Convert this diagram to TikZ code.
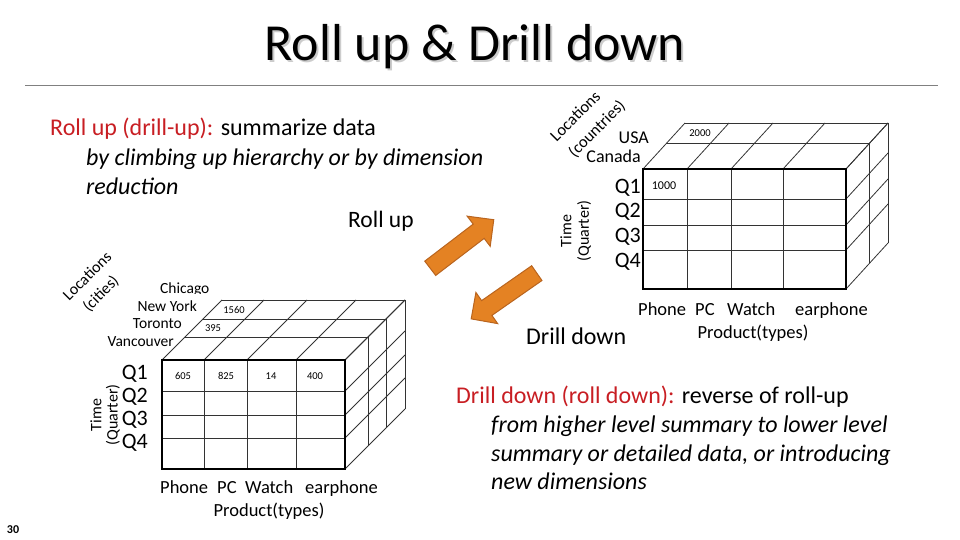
\documentclass[tikz,border=0pt]{standalone}
\usepackage{fontspec}
\setmainfont{Carlito}
\definecolor{hdred}{RGB}{200,30,35}
\definecolor{arrfill}{RGB}{228,130,35}
\definecolor{arrline}{RGB}{185,100,30}
\begin{document}
\begin{tikzpicture}[x=1pt,y=-1pt,
  body/.style={font=\fontsize{24}{28}\selectfont, anchor=base west, inner sep=0pt},
  bodyit/.style={body, font=\fontsize{24}{28}\selectfont\itshape},
  grid/.style={line width=0.8pt, draw=black!80},
  outline/.style={line width=2.2pt, draw=black},
  qlab/.style={font=\fontsize{22}{24}\selectfont, anchor=east, inner sep=0pt},
  loclab/.style={font=\fontsize{15.5}{17}\selectfont, anchor=east, inner sep=0pt},
  axlab/.style={font=\fontsize{16}{18}\selectfont, inner sep=0pt},
  rotlab/.style={font=\fontsize{16.5}{20}\selectfont, inner sep=0pt, rotate=45},
  val/.style={font=\fontsize{10.5}{11}\selectfont, inner sep=0pt},
  prod/.style={font=\fontsize{18.5}{20}\selectfont, anchor=base west, inner sep=0pt},
  bigarrow/.style={draw=arrline, fill=arrfill, line width=1pt, line join=miter}]
\useasboundingbox (0,0) rectangle (960,540);

% title
\node[font=\fontsize{52}{58}\selectfont, text=black!20] (titleshadow) at (477,49) {Roll up \& Drill down};
\node[font=\fontsize{52}{58}\selectfont] (title) at (475,47) {Roll up \& Drill down};
\coordinate (hl) at (25,86);
\coordinate (hr) at (938,86);
\draw[black!50, line width=1pt] (hl) -- (hr);

% roll up text
\node[body] (ru1) at (50,136) {\textcolor{hdred}{Roll up (drill-up):} summarize data};
\node[bodyit] (ru2) at (86,165) {by climbing up hierarchy or by dimension};
\node[bodyit] (ru3) at (86,194) {reduction};
\node[body, font=\fontsize{23.5}{26}\selectfont] (rulab) at (348,227) {Roll up};
\node[body] (ddlab) at (526,344) {Drill down};

% drill down text
\node[body] (dd1) at (456,403) {\textcolor{hdred}{Drill down (roll down):} reverse of roll-up};
\node[bodyit] (dd2) at (491,432) {from higher level summary to lower level};
\node[bodyit] (dd3) at (491,461) {summary or detailed data, or introducing};
\node[bodyit] (dd4) at (491,489) {new dimensions};

% arrows (drawn as block shapes)
\begin{scope}[shift={(462,244)}, rotate=37.4]
  \draw[bigarrow] (-40,-9) -- (21,-9) -- (21,-19) -- (40,0) -- (21,19) -- (21,9) -- (-40,9) -- cycle;
\end{scope}
\begin{scope}[shift={(504,296)}, rotate=214.9]
  \draw[bigarrow] (-40,-9) -- (21,-9) -- (21,-19) -- (40,0) -- (21,19) -- (21,9) -- (-40,9) -- cycle;
\end{scope}

% ---------- right cube (countries) ----------
\foreach \x in {643,687,731,783,846} \draw[grid] (\x,169) -- ++(42,-46);
\draw[grid] (666,143) -- (869,143);
\draw[grid] (685,123) -- (888,123);
\foreach \y in {169,199,225,250,289} \draw[grid] (846,\y) -- ++(42,-46);
\draw[grid] (869,143) -- (869,263);
\draw[grid] (888,123) -- (888,243);
\foreach \x in {687,731,783} \draw[grid] (\x,169) -- (\x,289);
\foreach \y in {199,225,250} \draw[grid] (643,\y) -- (846,\y);
\draw[outline] (643,169) rectangle (846,289);

\node[val] (v2000) at (700,133) {2000};
\node[val, font=\fontsize{12}{13}\selectfont] (v1000) at (664,186) {1000};
\node[loclab, font=\fontsize{18}{19}\selectfont] (usa) at (649,138) {USA};
\node[loclab, font=\fontsize{18}{19}\selectfont] (canada) at (641,156) {Canada};
\node[qlab] (rq1) at (641,188) {Q1};
\node[qlab] (rq2) at (641,212) {Q2};
\node[qlab] (rq3) at (641,237) {Q3};
\node[qlab] (rq4) at (641,262) {Q4};
\node[axlab, rotate=90] (rtime1) at (566,231) {Time};
\node[axlab, rotate=90] (rtime2) at (584,231) {(Quarter)};
\node[rotlab] (rloc1) at (575,116) {Locations};
\node[rotlab] (rloc2) at (597,129) {(countries)};
\node[prod] (rp1) at (638,315) {Phone};
\node[prod] (rp2) at (695,315) {PC};
\node[prod] (rp3) at (727,315) {Watch};
\node[prod] (rp4) at (795,315) {earphone};
\node[prod, anchor=base] (rprod) at (753,338) {Product(types)};

% ---------- left cube (cities) ----------
\foreach \x in {162,204,247,296,345} \draw[grid] (\x,360) -- ++(60,-60);
\draw[grid] (185,337) -- (368,337);
\draw[grid] (203,319) -- (386,319);
\draw[grid] (222,300) -- (405,300);
\foreach \y in {360,391,415,438,469} \draw[grid] (345,\y) -- ++(60,-60);
\draw[grid] (368,337) -- (368,446);
\draw[grid] (386,319) -- (386,428);
\draw[grid] (405,300) -- (405,409);
\foreach \x in {204,247,296} \draw[grid] (\x,360) -- (\x,469);
\foreach \y in {391,415,438} \draw[grid] (162,\y) -- (345,\y);
\draw[outline] (162,360) rectangle (345,469);

\node[val] (v1560) at (234,310) {1560};
\node[val] (v395) at (213,328) {395};
\node[val] (v605) at (183,376) {605};
\node[val] (v825) at (226,376) {825};
\node[val] (v14) at (271,376) {14};
\node[val] (v400) at (315,376) {400};

\begin{scope}
  \clip (0,0) rectangle (960,293);
  \node[loclab, anchor=west] (chicago) at (160,289) {Chicago};
\end{scope}
\node[loclab] (newyork) at (197,306) {New York};
\node[loclab] (toronto) at (182,324) {Toronto};
\node[loclab] (vancouver) at (174,342) {Vancouver};
\node[qlab] (lq1) at (148,374) {Q1};
\node[qlab] (lq2) at (148,397) {Q2};
\node[qlab] (lq3) at (148,420) {Q3};
\node[qlab] (lq4) at (148,443) {Q4};
\node[axlab, rotate=90] (ltime1) at (96,415) {Time};
\node[axlab, rotate=90] (ltime2) at (113,415) {(Quarter)};
\node[rotlab, font=\fontsize{16}{19}\selectfont] (lloc1) at (87,276) {Locations};
\node[rotlab, font=\fontsize{16}{19}\selectfont] (lloc2) at (101,294) {(cities)};
\node[prod] (lp1) at (160,493) {Phone};
\node[prod] (lp2) at (217,493) {PC};
\node[prod] (lp3) at (245,493) {Watch};
\node[prod] (lp4) at (305,493) {earphone};
\node[prod, anchor=base] (lprod) at (269,516) {Product(types)};

% page number
\node[font=\fontsize{12}{13}\selectfont\bfseries, inner sep=0pt] (pagenum) at (13,530) {30};
\end{tikzpicture}
\end{document}
